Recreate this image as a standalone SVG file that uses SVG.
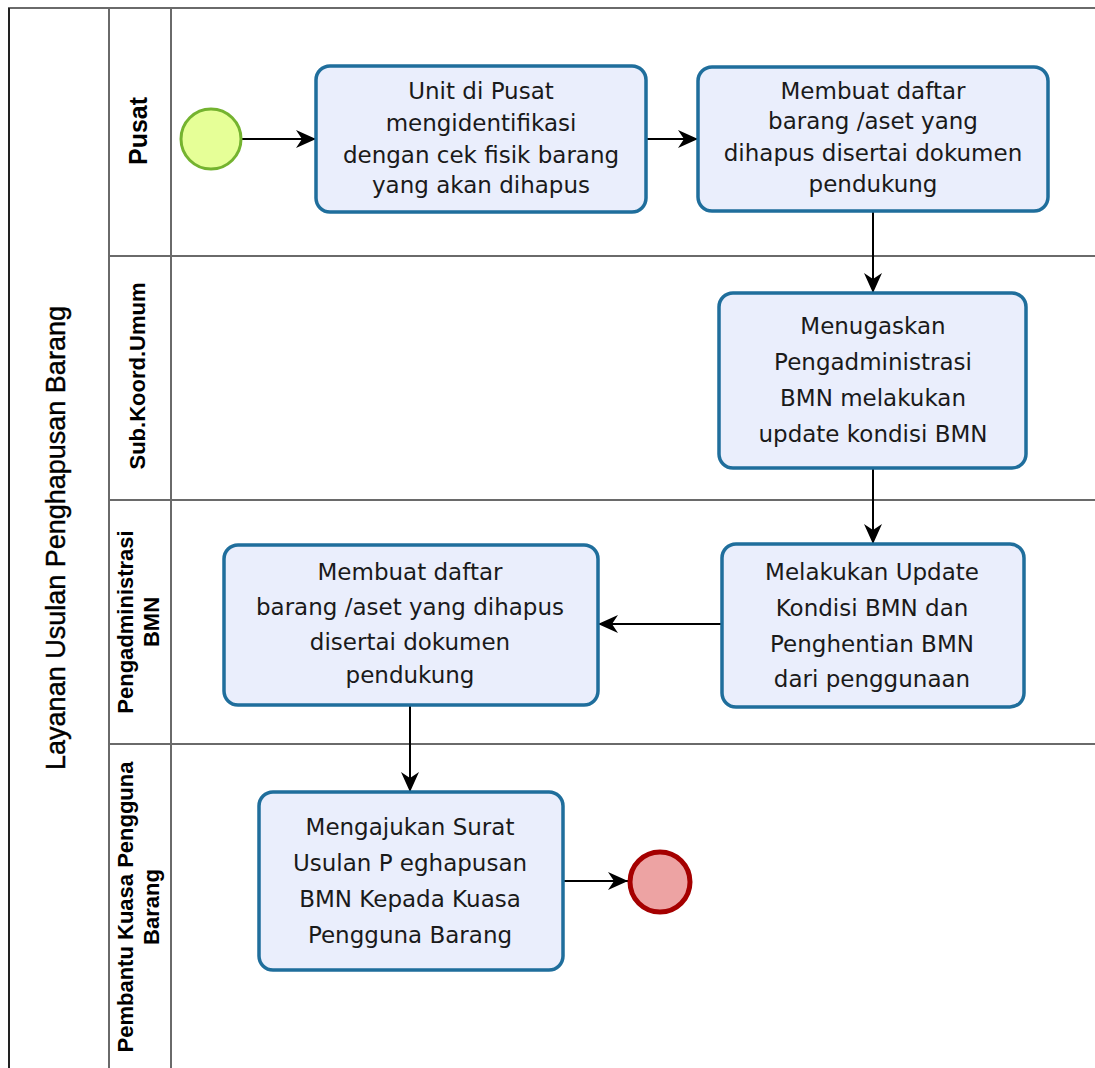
<svg xmlns="http://www.w3.org/2000/svg" width="1095" height="1068" viewBox="0 0 1095 1068">
<defs>
<style>
.pool{fill:#ffffff;stroke:none}
.ln{stroke:#6a6a6a;stroke-width:2;fill:none}
.task{fill:#eaeefc;stroke:#1f6e9c;stroke-width:3.5}
.tt{font-family:"DejaVu Sans",Verdana,sans-serif;font-size:23px;fill:#1a1a1a;text-anchor:middle}
.lane{font-family:"Liberation Sans",Arial,sans-serif;font-weight:bold;font-size:22px;fill:#000;text-anchor:middle}
.pooltxt{font-family:"Liberation Sans",Arial,sans-serif;font-size:27px;fill:#000;text-anchor:middle;stroke:#000;stroke-width:0.4}
.flow{stroke:#000;stroke-width:2;fill:none;marker-end:url(#ah)}
</style>
<marker id="ah" markerUnits="userSpaceOnUse" markerWidth="22" markerHeight="20" refX="20" refY="9" orient="auto">
<path d="M0,0 L20,9 L0,18 L6,9 Z" fill="#000"/>
</marker>
</defs>
<rect x="0" y="0" width="1095" height="1068" fill="#ffffff"/>
<g id="pool">
<rect class="pool" x="8" y="8" width="1100" height="1070"/>
<line class="ln" x1="8" y1="8" x2="1095" y2="8"/>
<line x1="9" y1="8" x2="9" y2="1068" stroke="#222" stroke-width="2"/>
<line class="ln" x1="109" y1="8" x2="109" y2="1068"/>
<line class="ln" x1="171" y1="8" x2="171" y2="1068"/>
<line class="ln" x1="109" y1="256" x2="1095" y2="256"/>
<line class="ln" x1="109" y1="500" x2="1095" y2="500"/>
<line class="ln" x1="109" y1="744" x2="1095" y2="744"/>
<text class="pooltxt" transform="translate(65,538) rotate(-90)">Layanan Usulan Penghapusan Barang</text>
</g>
<g id="lane-pusat"><text class="lane" style="font-size:25px" transform="translate(147,131) rotate(-90)">Pusat</text></g>
<g id="lane-subkoord"><text class="lane" transform="translate(145,376) rotate(-90)">Sub.Koord.Umum</text></g>
<g id="lane-pengadministrasi"><text class="lane" transform="translate(133,622) rotate(-90)">Pengadministrasi</text><text class="lane" transform="translate(159,622) rotate(-90)">BMN</text></g>
<g id="lane-pembantu"><text class="lane" transform="translate(133,907) rotate(-90)">Pembantu Kuasa Pengguna</text><text class="lane" transform="translate(159,907) rotate(-90)">Barang</text></g>
<g id="connectors">
<line class="flow" x1="242" y1="139" x2="316" y2="139"/>
<line class="flow" x1="646" y1="139" x2="698" y2="139"/>
<line class="flow" x1="873" y1="211" x2="873" y2="293"/>
<line class="flow" x1="873" y1="468" x2="873" y2="544"/>
<line class="flow" x1="722" y1="624" x2="598" y2="624"/>
<line class="flow" x1="410" y1="705" x2="410" y2="792"/>
<line class="flow" x1="563" y1="881" x2="628" y2="881"/>
</g>
<g id="start"><circle cx="211" cy="139" r="30" fill="#e6ff97" stroke="#74b32f" stroke-width="3"/></g>
<g id="task1"><rect class="task" x="316" y="66" width="330" height="146" rx="14"/>
<text class="tt" x="481" y="99">Unit di Pusat</text><text class="tt" x="481" y="131">mengidentifikasi</text><text class="tt" x="481" y="163">dengan cek fisik barang</text><text class="tt" x="481" y="193">yang akan dihapus</text></g>
<g id="task2"><rect class="task" x="698" y="67" width="350" height="144" rx="14"/>
<text class="tt" x="873" y="99">Membuat daftar</text><text class="tt" x="873" y="129">barang /aset yang</text><text class="tt" x="873" y="161">dihapus disertai dokumen</text><text class="tt" x="873" y="192">pendukung</text></g>
<g id="task3"><rect class="task" x="719" y="293" width="307" height="175" rx="14"/>
<text class="tt" x="873" y="334">Menugaskan</text><text class="tt" x="873" y="370">Pengadministrasi</text><text class="tt" x="873" y="406">BMN melakukan</text><text class="tt" x="873" y="442">update kondisi BMN</text></g>
<g id="task4"><rect class="task" x="722" y="544" width="302" height="163" rx="14"/>
<text class="tt" x="872" y="580">Melakukan Update</text><text class="tt" x="872" y="616">Kondisi BMN dan</text><text class="tt" x="872" y="652">Penghentian BMN</text><text class="tt" x="872" y="687">dari penggunaan</text></g>
<g id="task5"><rect class="task" x="224" y="545" width="374" height="160" rx="14"/>
<text class="tt" x="410" y="580">Membuat daftar</text><text class="tt" x="410" y="615">barang /aset yang dihapus</text><text class="tt" x="410" y="650">disertai dokumen</text><text class="tt" x="410" y="683">pendukung</text></g>
<g id="task6"><rect class="task" x="259" y="792" width="304" height="178" rx="14"/>
<text class="tt" x="410" y="835">Mengajukan Surat</text><text class="tt" x="410" y="871">Usulan P eghapusan</text><text class="tt" x="410" y="907">BMN Kepada Kuasa</text><text class="tt" x="410" y="943">Pengguna Barang</text></g>
<g id="end"><circle cx="660" cy="882" r="30" fill="#eda3a3" stroke="#a50000" stroke-width="5"/></g>
</svg>
